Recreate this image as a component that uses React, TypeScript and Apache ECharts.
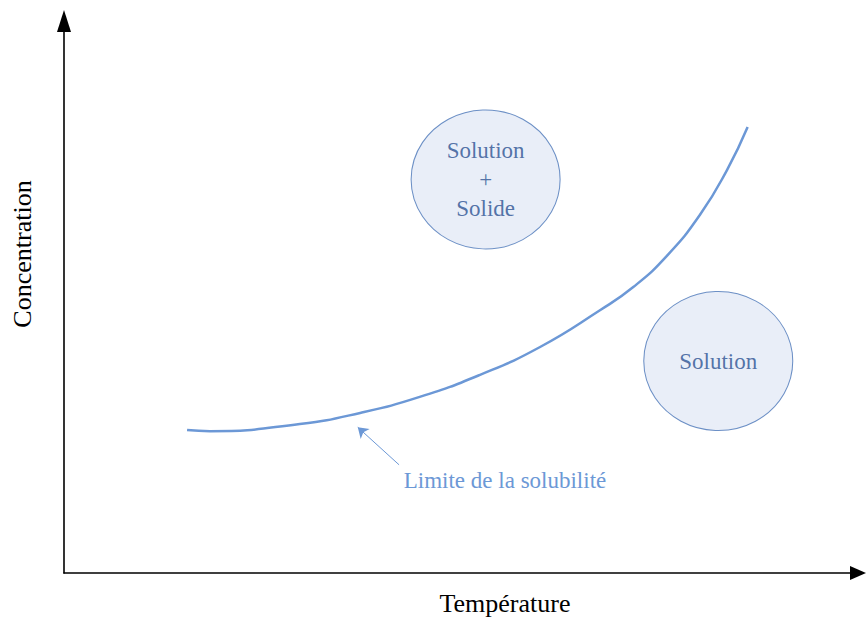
import React, { useEffect, useRef } from "react";
import * as echarts from "echarts";

// Solubility curve (temperature vs concentration, arbitrary 0-100 units)
const curveTemp = [15.5, 18.4, 29.7, 37.3, 44.8, 52.4, 59.9, 67.5, 71.7, 75.9, 80.1, 83.5, 86.1];
const curveConc = [25.9, 25.7, 27.0, 29.0, 31.9, 35.9, 40.9, 47.6, 51.8, 57.4, 64.9, 73.0, 80.8];

// Region bubbles
const regionLabels = ["Solution\n+\nSolide", "Solution"];
const regionTemp = [53.1, 82.4];
const regionConc = [71.3, 38.4];

// Annotation arrow (from label to curve)
const arrowFrom = [42.2, 19.6];
const arrowTo = [37.0, 26.4];
const annotationText = "Limite de la solubilité";

const xTitle = "Température";
const yTitle = "Concentration";

const SERIF = "'Liberation Serif', 'Times New Roman', serif";
const CURVE = "#6c98d6";

export default function App() {
  const ref = useRef<HTMLDivElement>(null);
  useEffect(() => {
    if (!ref.current) return;
    const chart = echarts.init(ref.current, undefined, { renderer: "svg" });
    const axisCommon = {
      type: "value" as const,
      min: 0,
      max: 100,
      splitLine: { show: false },
      axisTick: { show: false },
      axisLabel: { show: false },
      axisLine: {
        show: true,
        symbol: ["none", "triangle"],
        lineStyle: { color: "#000", width: 1.6 },
      },
    };
    chart.setOption({
      animation: false,
      grid: { left: 64, right: 8, top: 21, bottom: 46 },
      xAxis: { ...axisCommon, axisLine: { ...axisCommon.axisLine, symbolSize: [14, 16] } },
      yAxis: { ...axisCommon, axisLine: { ...axisCommon.axisLine, symbolSize: [14, 22] } },
      graphic: [
        {
          type: "text",
          x: 505,
          y: 603,
          style: {
            text: xTitle,
            font: `26px ${SERIF}`,
            fill: "#000",
            align: "center",
            verticalAlign: "middle",
          },
        },
        {
          type: "text",
          x: 22,
          y: 254,
          rotation: Math.PI / 2,
          style: {
            text: yTitle,
            font: `26px ${SERIF}`,
            fill: "#000",
            align: "center",
            verticalAlign: "middle",
          },
        },
        {
          type: "text",
          x: 505,
          y: 480,
          style: {
            text: annotationText,
            font: `23px ${SERIF}`,
            fill: CURVE,
            align: "center",
            verticalAlign: "middle",
          },
        },
      ],
      series: [
        {
          type: "line",
          data: curveTemp.map((t, i) => [t, curveConc[i]]),
          smooth: 0.5,
          showSymbol: false,
          lineStyle: { color: CURVE, width: 2.5 },
          markLine: {
            silent: true,
            symbol: ["none", "arrow"],
            symbolSize: 10,
            label: { show: false },
            lineStyle: { color: CURVE, width: 1, type: "solid" },
            data: [[{ coord: arrowFrom }, { coord: arrowTo }]],
          },
        },
        {
          type: "scatter",
          data: regionTemp.map((t, i) => ({ value: [t, regionConc[i]], name: regionLabels[i] })),
          symbol: "circle",
          symbolSize: [149, 139],
          itemStyle: { color: "#e4eaf6", borderColor: "#4a76b8", borderWidth: 1 },
          label: {
            show: true,
            position: "inside",
            formatter: (p: any) => p.name,
            color: "#2b5192",
            fontFamily: SERIF,
            fontSize: 23,
            lineHeight: 29,
          },
        },
      ],
    });
    return () => chart.dispose();
  }, []);
  return (
    <div
      ref={ref}
      style={{ position: "fixed", left: 0, top: 0, width: 866, height: 619, background: "#fff" }}
    />
  );
}
